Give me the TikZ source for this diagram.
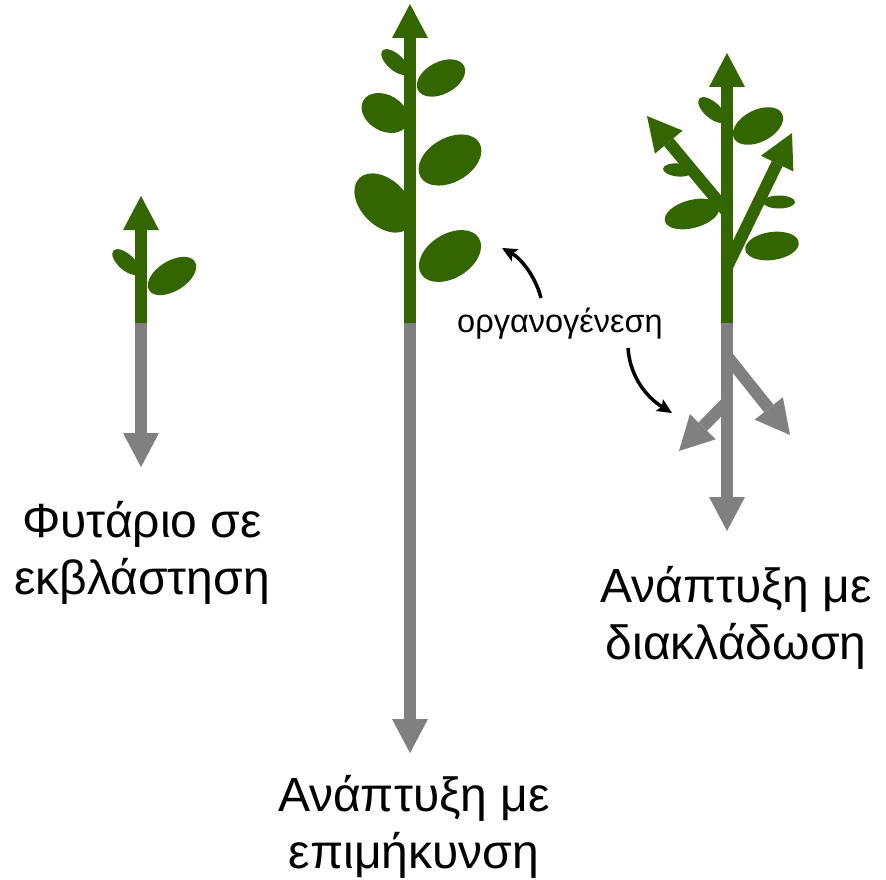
\documentclass[tikz,border=0pt]{standalone}
\usepackage{fontspec}
\setmainfont{Liberation Sans}
\usetikzlibrary{arrows.meta}
\definecolor{shoot}{HTML}{336600}
\definecolor{rootgray}{HTML}{808080}
\tikzset{
  leaf/.style={fill=shoot},
  shootarrow/.style={draw=shoot, line width=12pt, -{Triangle[length=34pt,width=36pt,line width=0pt]}},
  rootarrow/.style={draw=rootgray, line width=12pt, -{Triangle[length=34pt,width=36pt,line width=0pt]}},
  curvearrow/.style={draw=black, line width=3.5pt, -{Stealth[length=15pt,width=14pt,inset=3pt,line width=0pt]}},
  caption/.style={font=\fontsize{48}{56.5}\selectfont, align=center, inner sep=0pt},
  smallcaption/.style={font=\fontsize{32.5}{38}\selectfont, inner sep=0pt},
}
\begin{document}
\begin{tikzpicture}[x=1pt, y=-1pt]
\useasboundingbox (0,0) rectangle (886,880);

% ---------- seedling ----------
\coordinate (s1base) at (141,323);
\coordinate (s1top) at (141,196);
\coordinate (s1root) at (141,467);
\fill[leaf, rotate around={-42:(126,262)}] (126,262) ellipse [x radius=17pt, y radius=8pt];
\fill[leaf, rotate around={32:(172,276)}] (172,276) ellipse [x radius=27pt, y radius=15pt];
\draw[rootarrow] (s1base) -- (s1root);
\draw[shootarrow] (s1base) -- (s1top);

% ---------- elongation ----------
\coordinate (s2base) at (410,323);
\coordinate (s2top) at (410,4);
\coordinate (s2root) at (410,753);
\fill[leaf, rotate around={-42:(395,62)}] (395,62) ellipse [x radius=17pt, y radius=8pt];
\fill[leaf, rotate around={28:(441,78)}] (441,78) ellipse [x radius=26pt, y radius=16pt];
\fill[leaf, rotate around={-30:(385,113)}] (385,113) ellipse [x radius=25pt, y radius=18pt];
\fill[leaf, rotate around={30:(450,160)}] (450,160) ellipse [x radius=34pt, y radius=22pt];
\fill[leaf, rotate around={-45:(384,203)}] (384,203) ellipse [x radius=35pt, y radius=23pt];
\fill[leaf, rotate around={32:(450,256)}] (450,256) ellipse [x radius=34pt, y radius=22pt];
\draw[rootarrow] (s2base) -- (s2root);
\draw[shootarrow] (s2base) -- (s2top);

% ---------- branching ----------
\coordinate (s3base) at (727,323);
\coordinate (s3top) at (727,53);
\coordinate (s3root) at (727,531);
\coordinate (s3lb) at (727,212);
\coordinate (s3lbtip) at (647,116);
\coordinate (s3rb) at (727,267);
\coordinate (s3rbtip) at (792,133);
\coordinate (s3rr) at (727,356);
\coordinate (s3rrtip) at (790,435);
\coordinate (s3lr) at (727,402);
\coordinate (s3lrtip) at (679,451);
\fill[leaf, rotate around={-42:(712,110)}] (712,110) ellipse [x radius=17pt, y radius=8pt];
\fill[leaf, rotate around={27:(758,126)}] (758,126) ellipse [x radius=27pt, y radius=16pt];
\fill[leaf, rotate around={-5:(678,170)}] (678,170) ellipse [x radius=15pt, y radius=6.5pt];
\fill[leaf, rotate around={15:(692,214)}] (692,214) ellipse [x radius=28pt, y radius=14pt];
\fill[leaf, rotate around={0:(779,202)}] (779,202) ellipse [x radius=16pt, y radius=6.5pt];
\fill[leaf, rotate around={8:(772,246)}] (772,246) ellipse [x radius=27pt, y radius=14pt];
\draw[rootarrow] (s3rr) -- (s3rrtip);
\draw[rootarrow] (s3lr) -- (s3lrtip);
\draw[rootarrow] (s3base) -- (s3root);
\draw[shootarrow] (s3lb) -- (s3lbtip);
\draw[shootarrow] (s3rb) -- (s3rbtip);
\draw[shootarrow] (s3base) -- (s3top);

% ---------- organogenesis ----------
\node[smallcaption] (organ) at (560,324) {οργανογένεση};
\coordinate (up0) at (541,298);
\coordinate (up1) at (502,248);
\coordinate (dn0) at (628,348);
\coordinate (dn1) at (672,413);
\draw[curvearrow] (up0) .. controls (535,275) and (520,258) .. (up1);
\draw[curvearrow] (dn0) .. controls (630,378) and (648,398) .. (dn1);

% ---------- captions ----------
\node[caption] (cap1) at (142,553) {Φυτάριο σε\\εκβλάστηση};
\node[caption] (cap2) at (414,827) {Ανάπτυξη με\\επιμήκυνση};
\node[caption] (cap3) at (736,618) {Ανάπτυξη με\\διακλάδωση};
\end{tikzpicture}
\end{document}
